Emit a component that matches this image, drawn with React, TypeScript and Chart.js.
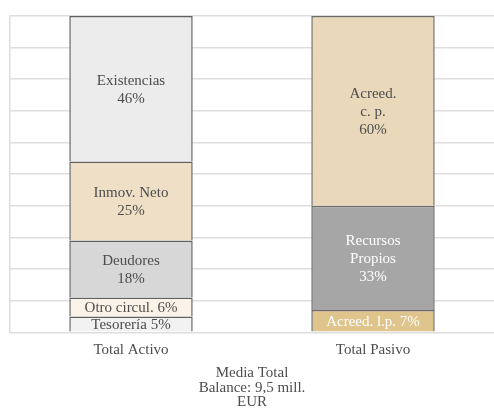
import React, { useEffect, useRef } from "react";
import { Chart, registerables } from "chart.js";
Chart.register(...registerables);

const categories = ["Total Activo", "Total Pasivo"];
const activoNames = ["Tesorería", "Otro circul.", "Deudores", "Inmov. Neto", "Existencias"];
const activoValues = [5, 6, 18, 25, 46];
const activoLabels = [["Tesorería 5%"], ["Otro circul. 6%"], ["Deudores", "18%"], ["Inmov. Neto", "25%"], ["Existencias", "46%"]];
const pasivoNames = ["Acreed. l.p.", "Recursos Propios", "Acreed. c. p."];
const pasivoValues = [7, 33, 60];
const pasivoLabels = [["Acreed. l.p. 7%"], ["Recursos", "Propios", "33%"], ["Acreed.", "c. p.", "60%"]];
const titleLines = ["Media Total", "Balance: 9,5 mill.", "EUR"];

const activoColors = ["#f2f2f2", "#fcf3e8", "#d7d7d7", "#efdfc6", "#ececec"];
const activoText = ["#4d4d4d", "#4d4d4d", "#4d4d4d", "#4d4d4d", "#4d4d4d"];
const pasivoColors = ["#dfc48c", "#a6a6a6", "#e9d9ba"];
const pasivoText = ["#ffffff", "#ffffff", "#4d4d4d"];

const FONT = "'Liberation Serif', serif";
const FS = 15;

const labelPlugin = {
  id: "segLabels",
  afterDatasetsDraw(chart: any) {
    const ctx = chart.ctx;
    chart.data.datasets.forEach((ds: any, i: number) => {
      const meta = chart.getDatasetMeta(i);
      meta.data.forEach((el: any, j: number) => {
        const v = ds.data[j];
        if (v == null) return;
        const lines: string[] = ds.segLines;
        const cy = (el.y + el.base) / 2;
        const lh = 18;
        ctx.save();
        ctx.font = `${FS}px ${FONT}`;
        ctx.fillStyle = ds.textColor;
        ctx.textAlign = "center";
        ctx.textBaseline = "middle";
        const start = cy - ((lines.length - 1) * lh) / 2;
        lines.forEach((t, k) => ctx.fillText(t, el.x, start + k * lh + 1));
        ctx.restore();
      });
    });
  },
};

export default function App() {
  const ref = useRef<HTMLCanvasElement>(null);
  useEffect(() => {
    document.body.style.margin = "0";
    const datasets: any[] = [];
    activoNames.forEach((n, i) =>
      datasets.push({
        label: n,
        data: [activoValues[i], null],
        backgroundColor: activoColors[i],
        borderColor: "#606060",
        borderWidth: 1.5,
        segLines: activoLabels[i],
        textColor: activoText[i],
      })
    );
    pasivoNames.forEach((n, i) =>
      datasets.push({
        label: n,
        data: [null, pasivoValues[i]],
        backgroundColor: pasivoColors[i],
        borderColor: "#6e6a66",
        borderWidth: 1.5,
        segLines: pasivoLabels[i],
        textColor: pasivoText[i],
      })
    );
    const chart = new Chart(ref.current!, {
      type: "bar",
      data: { labels: categories, datasets },
      options: {
        animation: false,
        responsive: false,
        layout: { padding: { left: 10, top: 16, right: 0, bottom: 5 } },
        datasets: { bar: { barPercentage: 0.51, categoryPercentage: 1 } } as any,
        plugins: {
          legend: { display: false },
          tooltip: { enabled: false },
          title: {
            display: true,
            position: "bottom",
            text: titleLines,
            color: "#4d4d4d",
            font: { family: FONT, size: FS, weight: "normal", lineHeight: 0.95 },
            padding: { top: 6, bottom: 0 },
          },
        },
        scales: {
          x: {
            stacked: true,
            grid: { display: false },
            border: { display: false },
            ticks: { color: "#4d4d4d", font: { family: FONT, size: FS }, padding: 1 },
          },
          y: {
            stacked: true,
            min: 0,
            max: 100,
            ticks: { display: false, stepSize: 10 },
            grid: { color: "#dedede", lineWidth: 1.5, drawTicks: false },
            border: { display: true, color: "#dedede", width: 1.5 },
          },
        },
      },
      plugins: [labelPlugin],
    });
    return () => chart.destroy();
  }, []);
  return <canvas ref={ref} width={494} height={414} style={{ display: "block" }} />;
}
